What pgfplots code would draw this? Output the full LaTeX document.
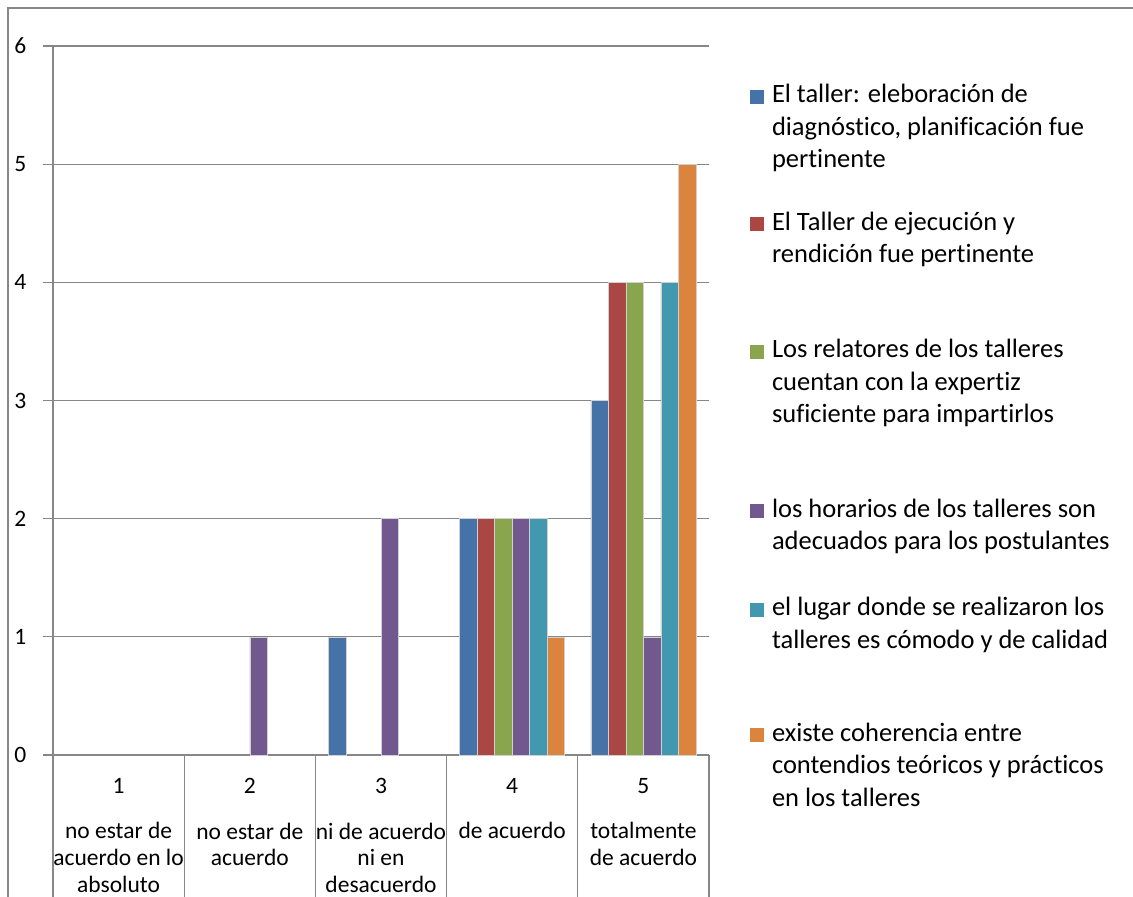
\documentclass[border=0pt]{standalone}
\usepackage{pgfplots}
\pgfplotsset{compat=1.18}
\usepackage{fontspec}
\setmainfont{Carlito}[Ligatures=NoCommon]
\definecolor{c1}{HTML}{4572A7}
\definecolor{c2}{HTML}{AA4643}
\definecolor{c3}{HTML}{89A54E}
\definecolor{c4}{HTML}{71588F}
\definecolor{c5}{HTML}{4198AF}
\definecolor{c6}{HTML}{DB843D}
\definecolor{gridc}{HTML}{878787}
\definecolor{edgec}{HTML}{D0D0D0}
\begin{document}
\begin{tikzpicture}
\path[use as bounding box] (-53bp,-142bp) rectangle (1080bp,755bp);
\draw[color=gridc, line width=1.6bp] (-45bp,-170bp) -- (-45bp,747bp) -- (1100bp,747bp);
\begin{axis}[
  scale only axis, width=656bp, height=709bp,
  at={(0,0)}, anchor=south west,
  ybar=0pt, bar width=17.5bp,
  xmin=0.5, xmax=5.5, ymin=0, ymax=6,
  axis x line*=bottom, axis y line*=left,
  axis line style={-, draw=gridc, line width=1.2bp},
  tick align=outside, tick pos=left,
  major tick length=9.5bp,
  ytick={0,1,2,3,4,5,6},
  ymajorgrids, grid style={draw=gridc, line width=1.2bp},
  ytick style={draw=gridc, line width=1.2bp},
  /pgf/number format/assume math mode=true,
  yticklabel style={font=\fontsize{23.5bp}{28bp}\selectfont, anchor=east, inner sep=0pt, xshift=-17bp},
  xtick={1,2,3,4,5},
  xtick style={draw=none},
  xticklabels={{1\\[18.4bp]no estar de\\acuerdo en lo\\absoluto},
               {2\\[18.4bp]no estar de\\acuerdo},
               {3\\[18.4bp]ni de acuerdo\\ni en\\desacuerdo},
               {4\\[18.4bp]de acuerdo},
               {5\\[18.4bp]totalmente\\de acuerdo}},
  xticklabel style={font=\fontsize{23.5bp}{26.7bp}\selectfont, align=center, anchor=north, inner sep=0pt, yshift=-14bp},
  extra x ticks={0.5,1.5,2.5,3.5,4.5,5.5},
  extra x tick labels={},
  extra x tick style={major tick length=170bp, xtick style={draw=gridc, line width=1.2bp}, grid=none},
  every axis plot/.append style={draw=edgec, line width=0.5bp},
  legend image code/.code={\fill[#1, draw=none] (0bp,-1bp) rectangle (14bp,13bp);},
  legend style={at={(1.0625,0.9515)}, anchor=north west, draw=none, fill=none,
    inner sep=0pt, outer sep=0pt, row sep=0pt, column sep=8bp,
    font=\fontsize{26.5bp}{32.3bp}\selectfont,
    cells={anchor=base west},
    nodes={inner sep=0pt, outer sep=0pt}},
]
\addplot[fill=c1] coordinates {(3,1) (4,2) (5,3)};
\addlegendentry{\vtop{\hbox{\strut El taller: eleboración de}\hbox{\strut diagnóstico, planificación fue}\hbox{\strut pertinente}}}
\addplot[fill=c2] coordinates {(4,2) (5,4)};
\addlegendentry{\vtop{\hbox{\rule{0pt}{126bp}El Taller de ejecución y}\hbox{\strut rendición fue pertinente}}}
\addplot[fill=c3] coordinates {(4,2) (5,4)};
\addlegendentry{\vtop{\hbox{\rule{0pt}{126bp}Los relatores de los talleres}\hbox{\strut cuentan con la expertiz}\hbox{\strut suficiente para impartirlos}}}
\addplot[fill=c4] coordinates {(2,1) (3,2) (4,2) (5,1)};
\addlegendentry{\vtop{\hbox{\rule{0pt}{158bp}los horarios de los talleres son}\hbox{\strut adecuados para los postulantes}}}
\addplot[fill=c5] coordinates {(4,2) (5,4)};
\addlegendentry{\vtop{\hbox{\rule{0pt}{97bp}el lugar donde se realizaron los}\hbox{\strut talleres es cómodo y de calidad}}}
\addplot[fill=c6] coordinates {(4,1) (5,5)};
\addlegendentry{\vtop{\hbox{\rule{0pt}{124bp}existe coherencia entre}\hbox{\strut contendios teóricos y prácticos}\hbox{\strut en los talleres}}}
\end{axis}
\end{tikzpicture}
\end{document}
